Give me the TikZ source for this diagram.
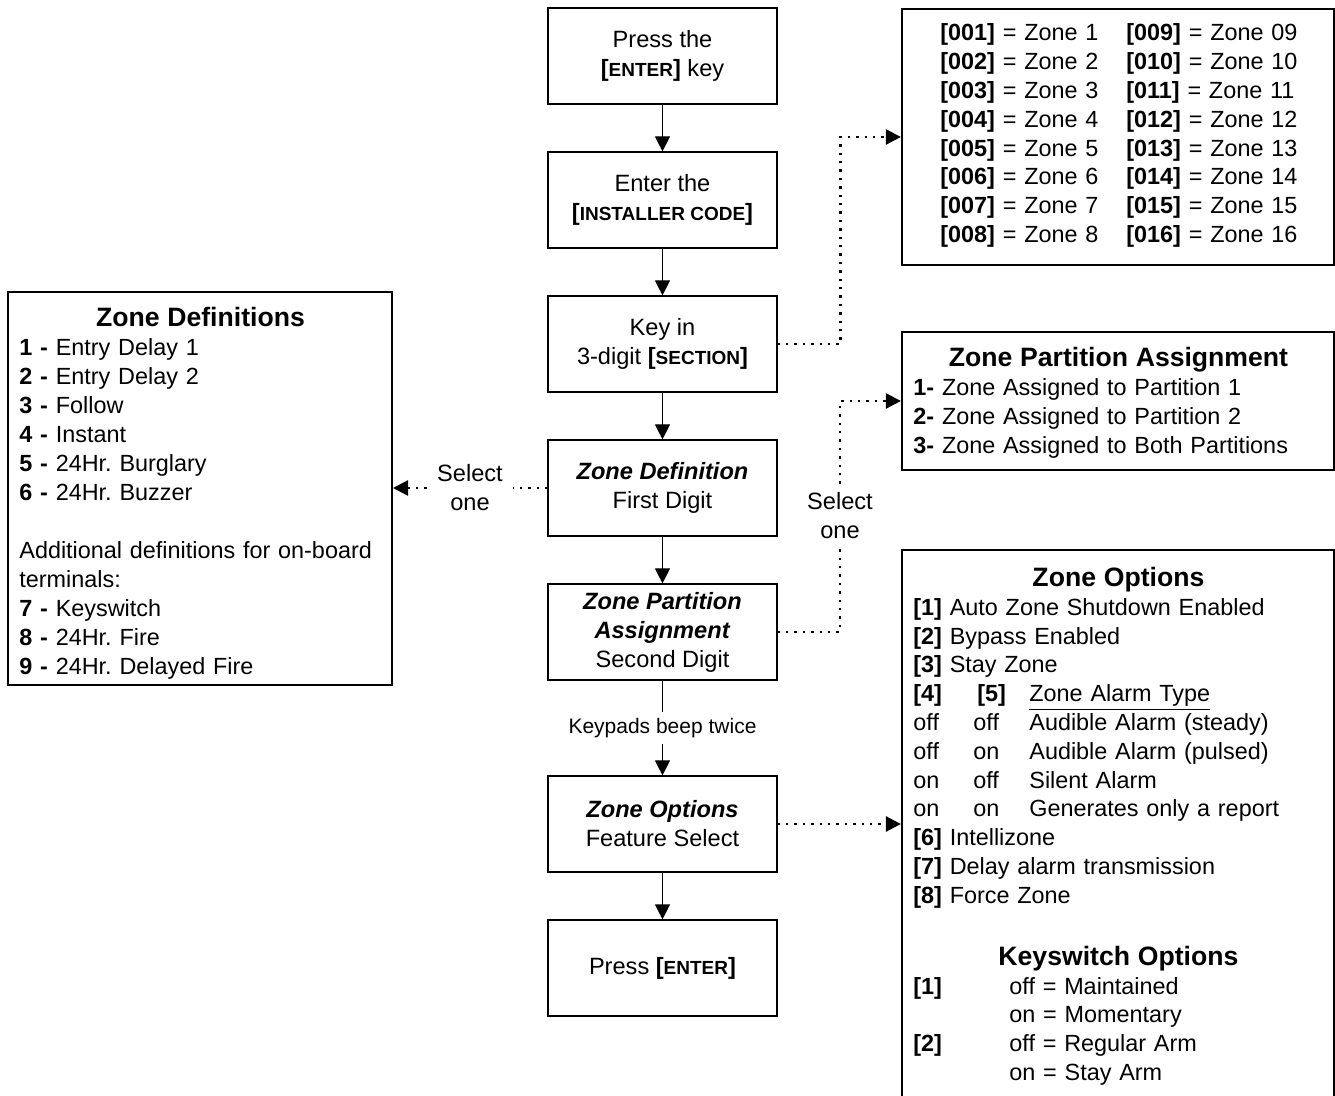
\documentclass[tikz,border=0pt]{standalone}
\usepackage{fontspec}
\setmainfont{Liberation Sans}
\usetikzlibrary{arrows.meta}
\frenchspacing

\newcommand{\keycap}[1]{\textbf{[{\fontsize{9.5}{14.5}\selectfont #1}]}}
\newcommand{\headfont}{\fontsize{13.3}{14.5}\selectfont\bfseries}

\tikzset{
  stepbox/.style={draw, line width=0.6pt, minimum width=114.5pt, minimum height=48pt, align=center, inner sep=1pt},
  infobox/.style={draw, line width=1.1pt, inner sep=0pt},
  infotext/.style={anchor=base west, inner sep=0pt, align=left, font=\fontsize{11.7}{14.5}\selectfont},
  flow/.style={line width=0.6pt, -{Triangle[length=7.5pt,width=7.5pt]}},
  dotline/.style={line width=1.3pt, dash pattern=on 1.2pt off 3pt},
  dotarrow/.style={dotline, -{Triangle[length=7.5pt,width=7.5pt]}},
}

\begin{document}
\begin{tikzpicture}[x=0.5pt, y=-0.5pt, font=\fontsize{11.8}{14.5}\selectfont]
\useasboundingbox (0,0) rectangle (1335,1096);

% Steps in the middle column
\node[stepbox] (b1) at (662.5,56) {Press the\\\keycap{ENTER} key};
\node[stepbox] (b2) at (662.5,200) {Enter the\\\keycap{INSTALLER CODE}};
\node[stepbox] (b3) at (662.5,344) {Key in\\3-digit \keycap{SECTION}};
\node[stepbox] (b4) at (662.5,488) {\textbf{\itshape Zone Definition}\\First Digit};
\node[stepbox] (b5) at (662.5,632) {\textbf{\itshape Zone Partition}\\\textbf{\itshape Assignment}\\Second Digit};
\node[stepbox] (b6) at (662.5,824) {\textbf{\itshape Zone Options}\\Feature Select};
\node[stepbox] (b7) at (662.5,968) {Press \keycap{ENTER}};

\node[font=\fontsize{10.5}{12}\selectfont, inner xsep=2pt, inner ysep=3pt] (kp) at (662.5,728) {Keypads beep twice};

% Solid flow
\draw[flow] (b1) -- (b2);
\draw[flow] (b2) -- (b3);
\draw[flow] (b3) -- (b4);
\draw[flow] (b4) -- (b5);
\draw[line width=0.6pt] (b5) -- (kp);
\draw[flow] (kp) -- (b6);
\draw[flow] (b6) -- (b7);

% Boxes at the sides
\node[infobox, line width=1pt, minimum width=192pt, minimum height=196.5pt] (zdef) at (200,488.5) {};
\node[infobox, minimum width=216pt, minimum height=128pt] (zlist) at (1118,137) {};
\node[infobox, minimum width=216pt, minimum height=69pt] (zpart) at (1118,401) {};
\node[infobox, minimum width=216pt, minimum height=275pt] (zopt) at (1118,825) {};

\node[infotext, text width=181pt] (zdeftxt) at (19,326.3) {%
\makebox[\linewidth]{\headfont Zone Definitions}\\
\textbf{1 -} Entry Delay 1\\
\textbf{2 -} Entry Delay 2\\
\textbf{3 -} Follow\\
\textbf{4 -} Instant\\
\textbf{5 -} 24Hr. Burglary\\
\textbf{6 -} 24Hr. Buzzer\\[14.5pt]
Additional definitions for on-board\\
terminals:\\
\textbf{7 -} Keyswitch\\
\textbf{8 -} 24Hr. Fire\\
\textbf{9 -} 24Hr. Delayed Fire};

\node[infotext, text width=190pt, font=\fontsize{11.7}{14.4}\selectfont] (zlisttxt) at (940,41) {%
\makebox[93pt][l]{\textbf{[001]} = Zone 1}\textbf{[009]} = Zone 09\\
\makebox[93pt][l]{\textbf{[002]} = Zone 2}\textbf{[010]} = Zone 10\\
\makebox[93pt][l]{\textbf{[003]} = Zone 3}\textbf{[011]} = Zone 11\\
\makebox[93pt][l]{\textbf{[004]} = Zone 4}\textbf{[012]} = Zone 12\\
\makebox[93pt][l]{\textbf{[005]} = Zone 5}\textbf{[013]} = Zone 13\\
\makebox[93pt][l]{\textbf{[006]} = Zone 6}\textbf{[014]} = Zone 14\\
\makebox[93pt][l]{\textbf{[007]} = Zone 7}\textbf{[015]} = Zone 15\\
\makebox[93pt][l]{\textbf{[008]} = Zone 8}\textbf{[016]} = Zone 16};

\node[infotext, text width=205pt] (zparttxt) at (913,366.5) {%
\makebox[\linewidth]{\headfont Zone Partition Assignment}\\
\textbf{1-} Zone Assigned to Partition 1\\
\textbf{2-} Zone Assigned to Partition 2\\
\textbf{3-} Zone Assigned to Both Partitions};

\node[infotext, text width=205pt, font=\fontsize{11.7}{14.4}\selectfont] (zopttxt) at (913,586.5) {%
\makebox[\linewidth]{\headfont Zone Options}\\
\textbf{[1]} Auto Zone Shutdown Enabled\\
\textbf{[2]} Bypass Enabled\\
\textbf{[3]} Stay Zone\\
\makebox[32pt][l]{\textbf{[4]}}\makebox[26pt][l]{\textbf{[5]}}\underline{Zone Alarm Type}\\
\makebox[30pt][l]{off}\makebox[28pt][l]{off}Audible Alarm (steady)\\
\makebox[30pt][l]{off}\makebox[28pt][l]{on}Audible Alarm (pulsed)\\
\makebox[30pt][l]{on}\makebox[28pt][l]{off}Silent Alarm\\
\makebox[30pt][l]{on}\makebox[28pt][l]{on}Generates only a report\\
\textbf{[6]} Intellizone\\
\textbf{[7]} Delay alarm transmission\\
\textbf{[8]} Force Zone\\[16.6pt]
\makebox[\linewidth]{\headfont Keyswitch Options}\\
\makebox[48pt][l]{\textbf{[1]}}off = Maintained\\
\hspace*{48pt}on = Momentary\\
\makebox[48pt][l]{\textbf{[2]}}off = Regular Arm\\
\hspace*{48pt}on = Stay Arm};

% Dotted links
\node[align=center, inner xsep=5pt, inner ysep=0pt] (selA) at (470,487.3) {Select\\one};
\node[align=center, inner xsep=0pt, inner ysep=4pt] (selB) at (840,515.3) {Select\\one};

\draw[dotarrow] (b3.east) -- ++(63,0) |- (zlist.west);
\draw[dotline] (b4.west) -- (b4.west -| selA.east);
\draw[dotarrow] (b4.west -| selA.west) -- (b4.west -| zdef.east);
\draw[dotline] (b5.east) -| (selB.south);
\draw[dotarrow] (selB.north) |- (zpart.west);
\draw[dotarrow] (b6.east) -- (b6.east -| zopt.west);
\end{tikzpicture}
\end{document}
